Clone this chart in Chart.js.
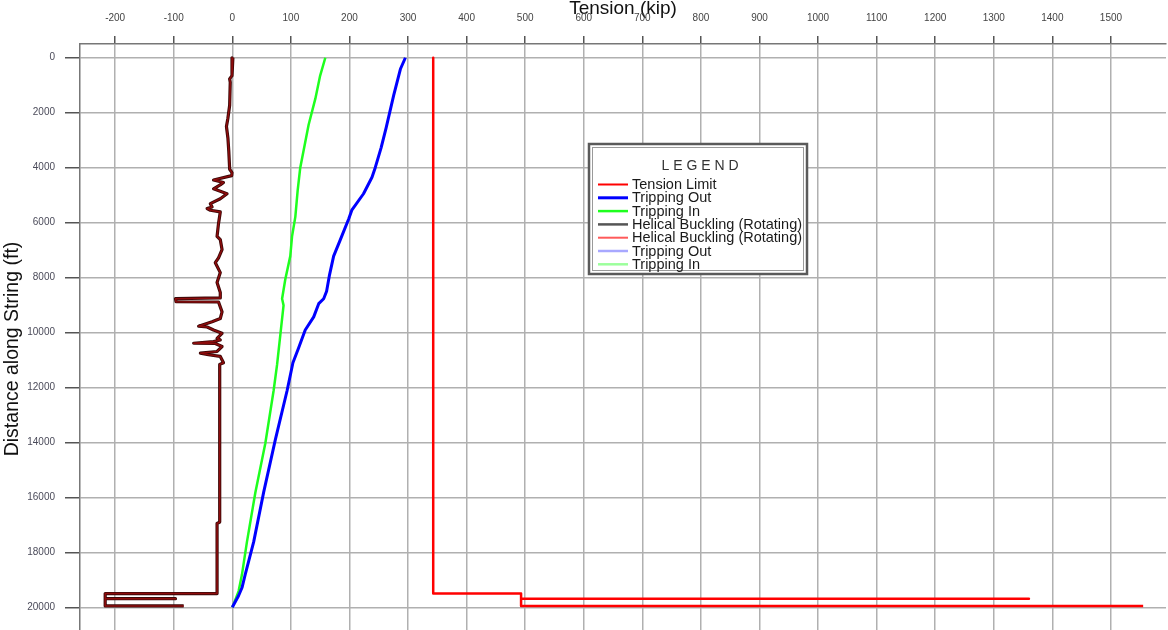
<!DOCTYPE html>
<html>
<head>
<meta charset="utf-8">
<script src="https://cdn.jsdelivr.net/npm/chart.js@4.4.1/dist/chart.umd.min.js"></script>
<style>
  html, body { margin: 0; padding: 0; background: #fff; overflow: hidden; }
  #wrap { position: relative; width: 1168px; height: 670px; }
</style>
</head>
<body>
<div id="wrap"><canvas id="chart"></canvas></div>
<script>
// axis ticks
const tensionTicks = [-200, -100, 0, 100, 200, 300, 400, 500, 600, 700, 800, 900, 1000, 1100, 1200, 1300, 1400, 1500];
const depthTicks = [0, 2000, 4000, 6000, 8000, 10000, 12000, 14000, 16000, 18000, 20000];

// tension limit (kip) vs distance (ft)
const limitTension = [343, 343, 493, 493, 1360, 493, 493, 1555];
const limitDepth   = [0, 19500, 19500, 19685, 19685, 19685, 19950, 19950];

// tripping out
const outTension = [295.5, 287, 275.5, 262.5, 254, 244, 238.5, 224, 204, 199, 184.5, 173, 166, 161, 156, 147.5, 139, 124.5, 113, 103.5, 93.5, 73.5, 53.5, 36.5, 22, 16.5, 10.5, 0];
const outDepth   = [0, 410, 1370, 2560, 3280, 4000, 4350, 4950, 5550, 5850, 6620, 7220, 7900, 8500, 8770, 8950, 9430, 9910, 10570, 11100, 12120, 13900, 15820, 17620, 18810, 19290, 19590, 20000];

// tripping in
const inTension = [158.8, 150, 141.8, 130.3, 116, 111.6, 107.6, 102, 99, 90.5, 85, 87.5, 82, 76.5, 70.5, 56.4, 39.3, 25, 16.5, 10.8, 2.3, 0];
const inDepth   = [0, 650, 1490, 2440, 4000, 4830, 5790, 6500, 7220, 8060, 8770, 9010, 10090, 11160, 12120, 14030, 15830, 17620, 18810, 19410, 19890, 20000];

// helical buckling (rotating)
const buckTension = [1, -0.5, -4.5, -3.5, -4.5, -7.5, -10, -7.5, -6, -4.5, -0.5, -1, -32, -15, -20, -32, -9, -20.5, -37.5, -34.5, -43, -37.5, -20.5,
  -23.5, -26, -20.5, -17.5, -23.5, -29, -20.5, -26, -20.5, -20.5, -97, -96, -23.5, -17.5, -20.5, -34.5, -57.5, -43, -32, -17.5,
  -26, -20.5, -32, -66, -29, -17.5, -26, -54.5, -40.5, -20.5, -15, -21.5, -21.5, -26, -26, -217, -217, -97, -217, -217, -83];
const buckDepth = [0, 650, 770, 890, 1730, 2200, 2500, 2920, 3400, 4060, 4180, 4290, 4450, 4540, 4620, 4770, 4950, 5130, 5310, 5430, 5490, 5550, 5610,
  6030, 6500, 6620, 6980, 7280, 7460, 7820, 8180, 8540, 8740, 8770, 8880, 8890, 9250, 9490, 9610, 9770, 9800, 9910, 10030,
  10210, 10270, 10330, 10390, 10400, 10510, 10690, 10750, 10810, 10870, 11100, 11160, 16900, 16950, 19500, 19500, 19685, 19685, 19685, 19950, 19950];

function pts(xs, ys) {
  return xs.map((x, i) => ({ x: x, y: ys[i] }));
}

const FONT = '"Liberation Sans", Arial, sans-serif';

// boxed legend inside the plot
const boxLegend = {
  id: 'boxLegend',
  afterDraw(chart) {
    const ctx = chart.ctx;
    ctx.save();
    ctx.fillStyle = '#fff';
    ctx.fillRect(589, 144, 218, 130);
    ctx.strokeStyle = '#5a5a5a';
    ctx.lineWidth = 2.5;
    ctx.strokeRect(589, 144, 218, 130);
    ctx.strokeStyle = '#9a9a9a';
    ctx.lineWidth = 1;
    ctx.strokeRect(592.5, 147.5, 211, 123);

    ctx.fillStyle = '#333';
    ctx.font = '14px ' + FONT;
    ctx.textAlign = 'center';
    ctx.textBaseline = 'middle';
    ctx.fillText('L E G E N D', 700, 166);

    ctx.textAlign = 'left';
    ctx.font = '14.5px ' + FONT;
    chart.data.datasets.forEach((ds, i) => {
      const y = 184.5 + i * 13.3;
      ctx.strokeStyle = ds.legendColor || ds.borderColor;
      ctx.lineWidth = ds.legendWidth || ds.borderWidth;
      ctx.beginPath();
      ctx.moveTo(598, y);
      ctx.lineTo(628, y);
      ctx.stroke();
      ctx.fillStyle = '#1a1a1a';
      ctx.fillText(ds.label, 632, y + 0.5);
    });
    ctx.restore();
  }
};

const line = { showLine: true, pointRadius: 0, pointHoverRadius: 0, tension: 0, fill: false, borderJoinStyle: 'round' };

new Chart(document.getElementById('chart'), {
  type: 'scatter',
  data: {
    datasets: [
      { ...line, label: 'Tension Limit', data: pts(limitTension, limitDepth), borderColor: '#ff0000', borderWidth: 2.5, legendWidth: 2 },
      { ...line, label: 'Tripping Out', data: pts(outTension, outDepth), borderColor: '#0000ff', borderWidth: 3 },
      { ...line, label: 'Tripping In', data: pts(inTension, inDepth), borderColor: '#1eff1e', borderWidth: 2.5 },
      { ...line, label: 'Helical Buckling (Rotating)', data: pts(buckTension, buckDepth), borderColor: '#3a0808', borderWidth: 3.2, legendColor: '#555', legendWidth: 2.5, order: 1 },
      { ...line, label: 'Helical Buckling (Rotating)', data: pts(buckTension, buckDepth), borderColor: '#8e0c0c', borderWidth: 1.5, legendColor: '#ff5a5a', legendWidth: 2 },
      { ...line, label: 'Tripping Out', data: [], borderColor: '#a8a8ff', borderWidth: 2.5 },
      { ...line, label: 'Tripping In', data: [], borderColor: '#9cff9c', borderWidth: 2.5 }
    ]
  },
  options: {
    responsive: true,
    maintainAspectRatio: false,
    animation: false,
    layout: { padding: { left: 0, top: 0, right: 2, bottom: 6 } },
    plugins: { legend: { display: false }, tooltip: { enabled: false } },
    scales: {
      x: {
        type: 'linear',
        position: 'top',
        min: -260,
        max: 1594,
        afterBuildTicks: s => { s.ticks = tensionTicks.map(v => ({ value: v })); },
        afterFit: s => { s.height = 44; },
        grid: { color: '#b0b0b0', lineWidth: 1.5, tickColor: '#555', tickLength: 8 },
        border: { display: true, color: '#777', width: 1.5 },
        ticks: { color: '#444', font: { family: FONT, size: 10 }, padding: 12, maxRotation: 0, callback: v => String(v) },
        title: { display: true, text: 'Tension (kip)', color: '#111', font: { family: FONT, size: 19 }, padding: { top: -3, bottom: 0 } }
      },
      y: {
        type: 'linear',
        position: 'left',
        reverse: true,
        min: -500,
        max: 21700,
        afterBuildTicks: s => { s.ticks = depthTicks.map(v => ({ value: v })); },
        afterFit: s => { s.width = 80; },
        grid: { color: '#b0b0b0', lineWidth: 1.5, tickColor: '#555', tickLength: 15 },
        border: { display: true, color: '#777', width: 1.5 },
        ticks: { color: '#4b4b5a', font: { family: FONT, size: 10 }, padding: 10, callback: v => String(v) },
        title: { display: true, text: 'Distance along String (ft)', color: '#111', font: { family: FONT, size: 19.5 }, padding: { top: 0.5, bottom: 0 } }
      }
    }
  },
  plugins: [boxLegend]
});
</script>
</body>
</html>
